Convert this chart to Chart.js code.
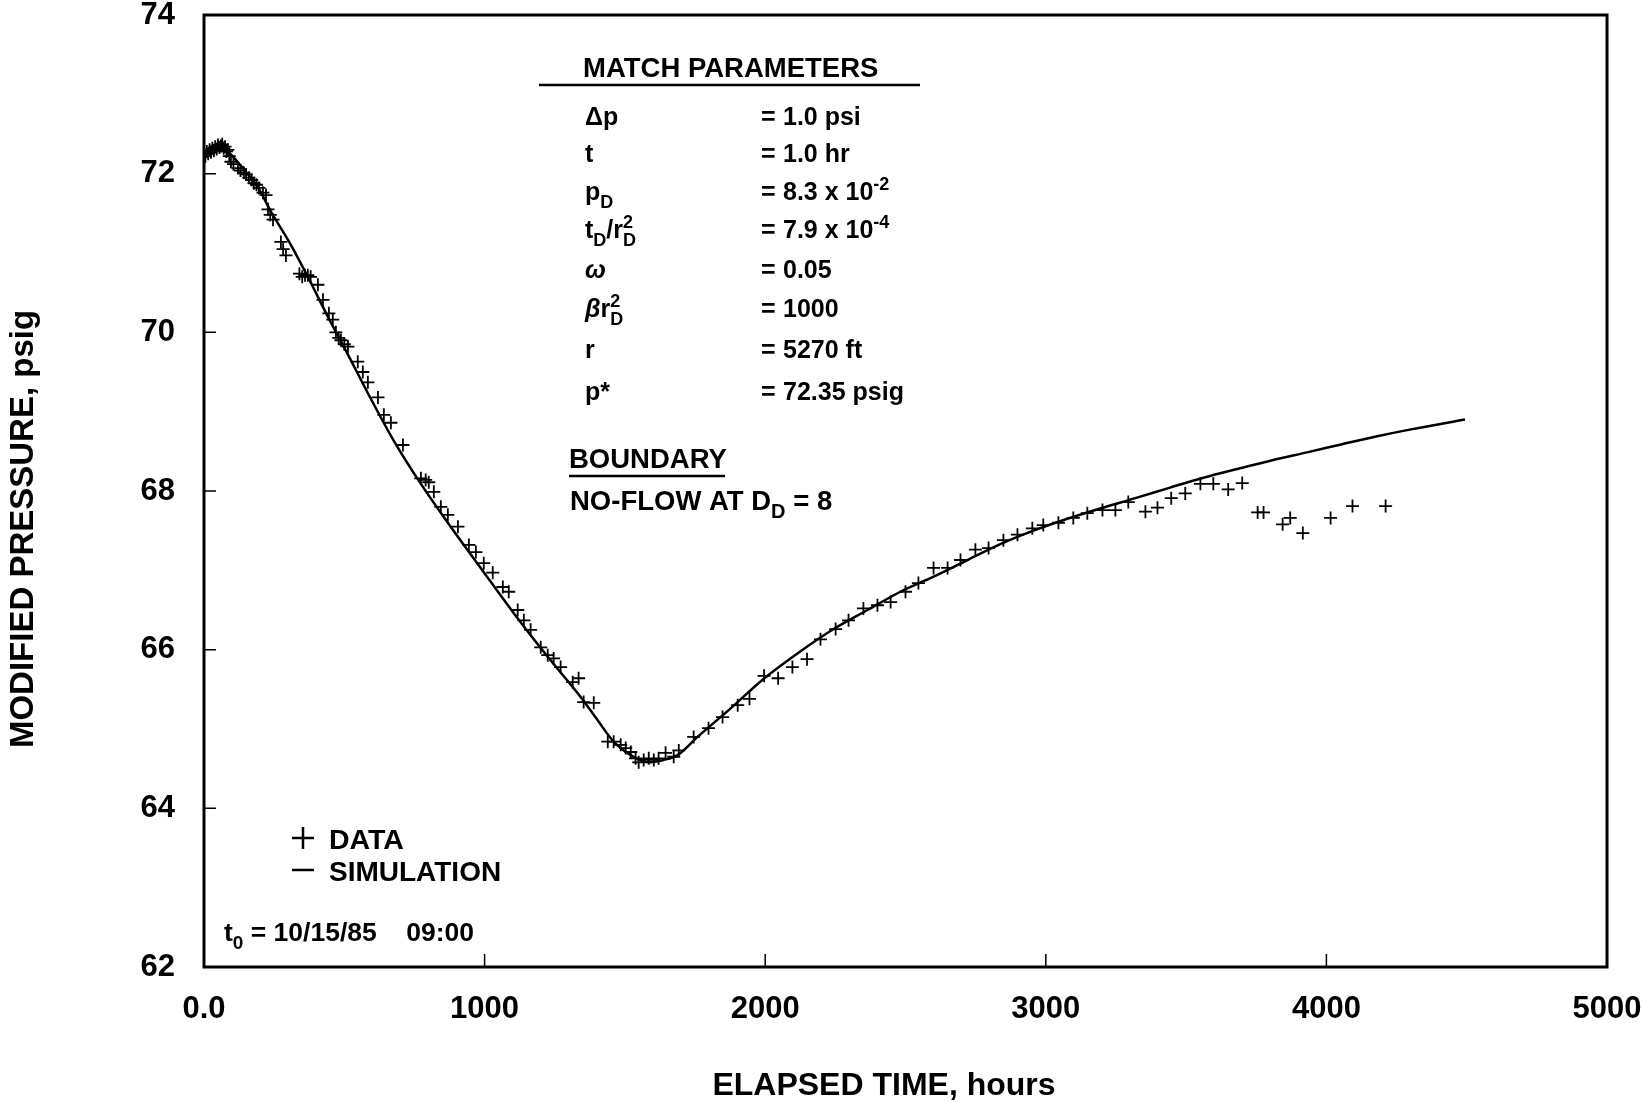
<!DOCTYPE html>
<html>
<head>
<meta charset="utf-8">
<script src="https://cdn.jsdelivr.net/npm/chart.js@4.4.1/dist/chart.umd.min.js"></script>
<style>
  html, body { margin: 0; padding: 0; background: #fff; }
  canvas { display: block; }
</style>
</head>
<body>
<canvas id="pressureChart" width="1643" height="1103"></canvas>
<script>
// observed data (elapsed time, hours / modified pressure, psig)
const dataTime = [
  5, 10, 15, 20, 25, 30, 35, 40, 45, 50, 55, 60, 65, 70, 75, 80, 85, 90,
  96, 105, 121, 130, 142, 150, 160, 170, 178, 187, 196, 210, 221, 228, 236, 246,
  274, 282, 292, 340, 350, 360, 370, 380, 406, 424, 445, 459, 470, 480, 488, 500,
  513, 548, 566, 584, 620, 641, 666, 709, 773, 790, 801, 819, 844, 869, 905, 944,
  969, 997, 1029, 1065, 1086, 1118, 1140, 1164, 1200, 1225, 1246, 1271, 1314, 1335,
  1353, 1389, 1439, 1460, 1485, 1503, 1521, 1538, 1549, 1567, 1585, 1603, 1620, 1645,
  1674, 1692, 1745, 1798, 1848, 1902, 1944, 1996, 2046, 2097, 2149, 2197, 2251, 2297,
  2350, 2400, 2447, 2500, 2546, 2600, 2650, 2696, 2749, 2796, 2849, 2899, 2952, 2991,
  3045, 3098, 3148, 3202, 3248, 3294, 3355, 3398, 3447, 3497, 3551, 3597, 3650, 3700,
  3755, 3776, 3844, 3871, 3916, 4015, 4093, 4211
];
const dataPressure = [
  72.22, 72.28, 72.25, 72.30, 72.27, 72.32, 72.29, 72.34, 72.31, 72.36, 72.33, 72.35, 72.37, 72.32, 72.34, 72.28, 72.30, 72.22,
  72.15, 72.12, 72.07, 72.04, 72.01, 71.99, 71.95, 71.92, 71.88, 71.86, 71.82, 71.76, 71.73, 71.55, 71.48, 71.42,
  71.14, 71.05, 70.97, 70.74, 70.70, 70.72, 70.72, 70.70, 70.60, 70.41, 70.24, 70.16, 70.00, 69.93, 69.90, 69.85,
  69.82, 69.63, 69.50, 69.37, 69.18, 68.96, 68.86, 68.58, 68.16, 68.14, 68.11, 67.99, 67.80, 67.70, 67.55, 67.32,
  67.23, 67.09, 66.97, 66.79, 66.73, 66.50, 66.37, 66.25, 66.03, 65.93, 65.89, 65.78, 65.59, 65.64,
  65.34, 65.33, 64.84, 64.84, 64.80, 64.76, 64.71, 64.63, 64.58, 64.61, 64.63, 64.61, 64.63, 64.70,
  64.65, 64.73, 64.90, 65.01, 65.15, 65.30, 65.38, 65.67, 65.64, 65.78, 65.88, 66.13, 66.26, 66.37,
  66.52, 66.56, 66.60, 66.73, 66.84, 67.03, 67.03, 67.13, 67.26, 67.28, 67.38, 67.45, 67.53, 67.57,
  67.60, 67.66, 67.72, 67.76, 67.76, 67.86, 67.74, 67.79, 67.91, 67.97, 68.09, 68.09, 68.02, 68.10,
  67.73, 67.73, 67.58, 67.66, 67.47, 67.66, 67.81, 67.81
];

// simulated response
const simTime = [
  0, 25, 53, 80, 107, 150, 192, 239, 310, 370, 441, 513, 595, 677, 773, 869, 986,
  1104, 1225, 1343, 1403, 1460, 1521, 1581, 1638, 1688, 1759, 1877, 1994, 2126, 2244,
  2365, 2482, 2600, 2721, 2838, 2956, 3077, 3194, 3319, 3440, 3565, 3686, 3811, 3935,
  4056, 4181, 4306, 4494
];
const simPressure = [
  72.28, 72.33, 72.36, 72.30, 72.20, 72.02, 71.83, 71.52, 71.10, 70.70, 70.20, 69.72, 69.16, 68.63, 68.09, 67.60, 67.03,
  66.46, 65.91, 65.40, 65.11, 64.84, 64.67, 64.58, 64.61, 64.67, 64.90, 65.26, 65.63, 65.98, 66.26,
  66.50, 66.73, 66.92, 67.13, 67.33, 67.50, 67.65, 67.78, 67.91, 68.04, 68.17, 68.28, 68.39, 68.49,
  68.59, 68.69, 68.78, 68.90
];

const xTicks = [0, 1000, 2000, 3000, 4000, 5000];
const yTicks = [62, 64, 66, 68, 70, 72, 74];

const FONT = '"Liberation Sans", Arial, Helvetica, sans-serif';

// draw a run of text pieces, with sub / superscripts
function drawRich(ctx, parts, x, y, size) {
  let cx = x;
  parts.forEach(p => {
    const small = Math.round(size * 0.72);
    if (p.stack) {
      ctx.font = `bold ${small}px ${FONT}`;
      ctx.fillText(p.stack[0], cx, y - size * 0.42);
      ctx.fillText(p.stack[1], cx, y + size * 0.3);
      cx += Math.max(ctx.measureText(p.stack[0]).width, ctx.measureText(p.stack[1]).width);
      return;
    }
    const style = p.italic ? 'italic bold' : 'bold';
    const fs = (p.sub || p.sup) ? small : size;
    ctx.font = `${style} ${fs}px ${FONT}`;
    let dy = 0;
    if (p.sub) dy = size * 0.3;
    if (p.sup) dy = -size * 0.42;
    ctx.fillText(p.t, cx, y + dy);
    cx += ctx.measureText(p.t).width;
  });
}

const matchRows = [
  { label: [{ t: 'Δp' }], value: [{ t: '1.0 psi' }], y: 125 },
  { label: [{ t: 't' }], value: [{ t: '1.0 hr' }], y: 162 },
  { label: [{ t: 'p' }, { t: 'D', sub: true }], value: [{ t: '8.3 x 10' }, { t: '-2', sup: true }], y: 200 },
  { label: [{ t: 't' }, { t: 'D', sub: true }, { t: '/r' }, { stack: ['2', 'D'] }], value: [{ t: '7.9 x 10' }, { t: '-4', sup: true }], y: 238 },
  { label: [{ t: 'ω', italic: true }], value: [{ t: '0.05' }], y: 278 },
  { label: [{ t: 'β', italic: true }, { t: 'r' }, { stack: ['2', 'D'] }], value: [{ t: '1000' }], y: 317 },
  { label: [{ t: 'r' }], value: [{ t: '5270 ft' }], y: 358 },
  { label: [{ t: 'p*' }], value: [{ t: '72.35 psig' }], y: 400 }
];

const decorPlugin = {
  id: 'decor',
  afterDraw(chart) {
    const { ctx, chartArea: a, scales } = chart;
    ctx.save();
    ctx.fillStyle = '#000';
    ctx.strokeStyle = '#000';

    // frame
    ctx.lineWidth = 3;
    ctx.strokeRect(a.left, a.top, a.right - a.left, a.bottom - a.top);

    // inward ticks
    ctx.lineWidth = 1.5;
    ctx.beginPath();
    yTicks.slice(1, -1).forEach(v => {
      const py = scales.y.getPixelForValue(v);
      ctx.moveTo(a.left, py);
      ctx.lineTo(a.left + 12, py);
    });
    xTicks.slice(1, -1).forEach(v => {
      const px = scales.x.getPixelForValue(v);
      ctx.moveTo(px, a.bottom);
      ctx.lineTo(px, a.bottom - 13);
    });
    ctx.stroke();

    // axis titles
    ctx.textBaseline = 'middle';
    ctx.textAlign = 'center';
    ctx.font = `bold 32px ${FONT}`;
    ctx.fillText('ELAPSED TIME, hours', 884, 1086);
    ctx.save();
    ctx.translate(24, 529);
    ctx.rotate(-Math.PI / 2);
    ctx.font = `bold 33px ${FONT}`;
    ctx.fillText('MODIFIED PRESSURE, psig', 0, 0);
    ctx.restore();

    // match parameters box
    ctx.textAlign = 'left';
    ctx.textBaseline = 'alphabetic';
    ctx.font = `bold 27.5px ${FONT}`;
    ctx.fillText('MATCH PARAMETERS', 583, 77);
    ctx.lineWidth = 2.5;
    ctx.beginPath();
    ctx.moveTo(539, 85);
    ctx.lineTo(920, 85);
    ctx.stroke();

    matchRows.forEach(r => {
      drawRich(ctx, r.label, 585, r.y, 25);
      ctx.font = `bold 25px ${FONT}`;
      ctx.fillText('=', 761, r.y);
      drawRich(ctx, r.value, 783, r.y, 25);
    });

    ctx.font = `bold 27.5px ${FONT}`;
    ctx.fillText('BOUNDARY', 569, 468);
    ctx.beginPath();
    ctx.moveTo(569, 476);
    ctx.lineTo(725, 476);
    ctx.stroke();
    drawRich(ctx, [{ t: 'NO-FLOW AT D' }, { t: 'D', sub: true }, { t: ' = 8' }], 570, 510, 27.5);

    // legend
    ctx.lineWidth = 2.5;
    ctx.beginPath();
    ctx.moveTo(292, 838); ctx.lineTo(314, 838);
    ctx.moveTo(303, 827); ctx.lineTo(303, 849);
    ctx.moveTo(292, 870); ctx.lineTo(314, 870);
    ctx.stroke();
    ctx.font = `bold 28.5px ${FONT}`;
    ctx.fillText('DATA', 329, 849);
    ctx.font = `bold 28px ${FONT}`;
    ctx.fillText('SIMULATION', 329, 881);
    drawRich(ctx, [{ t: 't' }, { t: '0', sub: true }, { t: ' = 10/15/85    09:00' }], 224, 941, 26.5);

    ctx.restore();
  }
};

const ctx = document.getElementById('pressureChart');
new Chart(ctx, {
  type: 'scatter',
  data: {
    datasets: [
      {
        label: 'SIMULATION',
        data: simTime.map((t, i) => ({ x: t, y: simPressure[i] })),
        showLine: true,
        borderColor: '#000',
        borderWidth: 2.5,
        pointRadius: 0,
        cubicInterpolationMode: 'monotone',
        fill: false
      },
      {
        label: 'DATA',
        data: dataTime.map((t, i) => ({ x: t, y: dataPressure[i] })),
        pointStyle: 'cross',
        pointRadius: 6.5,
        pointBorderWidth: 1.8,
        borderColor: '#000',
        backgroundColor: '#000'
      }
    ]
  },
  options: {
    responsive: false,
    animation: false,
    devicePixelRatio: 1,
    layout: { padding: { top: 15, right: 36, left: 0, bottom: 0 } },
    plugins: { legend: { display: false }, tooltip: { enabled: false } },
    scales: {
      x: {
        type: 'linear',
        min: 0,
        max: 5000,
        afterBuildTicks: s => { s.ticks = xTicks.map(v => ({ value: v })); },
        afterFit: s => {
          s.height = 136;
          s.paddingLeft = 0;
          s.paddingRight = 0;
        },
        ticks: {
          color: '#000',
          padding: 16,
          font: { family: FONT, size: 31, weight: 'bold' },
          callback: v => (v === 0 ? '0.0' : String(v))
        },
        grid: { display: false },
        border: { display: false }
      },
      y: {
        min: 62,
        max: 74,
        afterBuildTicks: s => { s.ticks = yTicks.map(v => ({ value: v })); },
        afterFit: s => {
          s.width = 204;
          s.paddingTop = 0;
          s.paddingBottom = 0;
        },
        ticks: {
          color: '#000',
          padding: 21,
          font: { family: FONT, size: 31, weight: 'bold' }
        },
        grid: { display: false },
        border: { display: false }
      }
    }
  },
  plugins: [decorPlugin]
});
</script>
</body>
</html>
